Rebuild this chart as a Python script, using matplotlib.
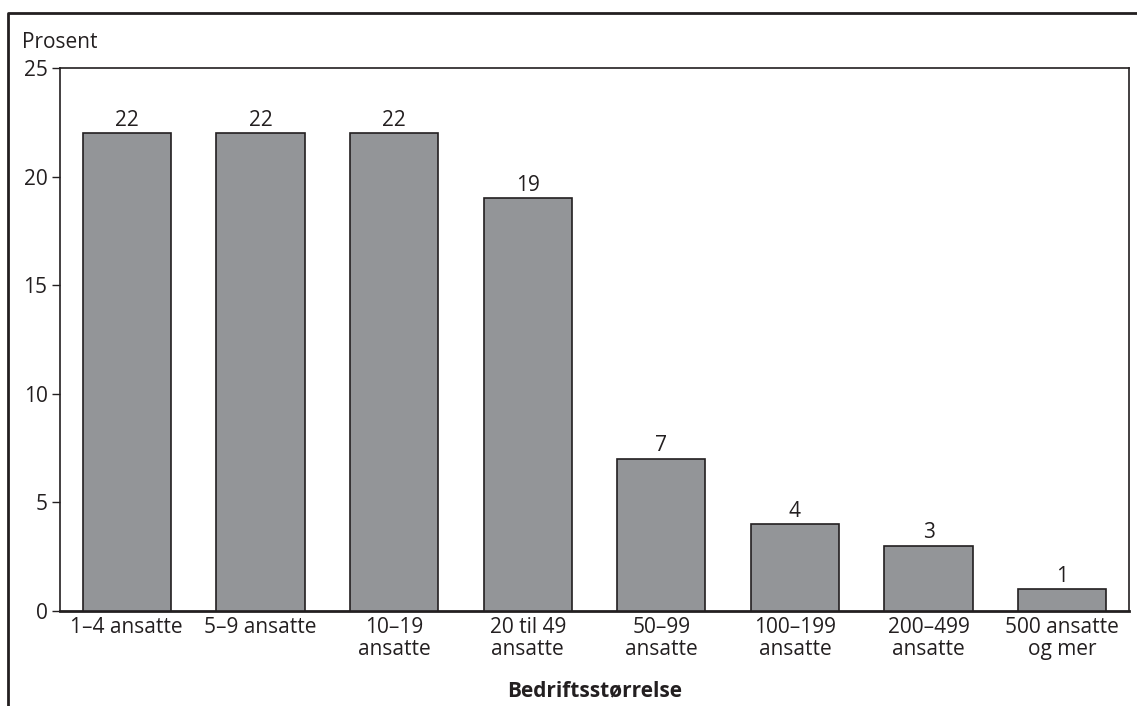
import matplotlib
matplotlib.use("Agg")
import matplotlib.pyplot as plt
from matplotlib.lines import Line2D

categories = ["1–4 ansatte", "5–9 ansatte", "10–19\nansatte", "20 til 49\nansatte",
              "50–99\nansatte", "100–199\nansatte", "200–499\nansatte", "500 ansatte\nog mer"]
values = [22, 22, 22, 19, 7, 4, 3, 1]
yticks = [0, 5, 10, 15, 20, 25]

plt.rcParams['font.family'] = ['Open Sans', 'DejaVu Sans']

W, H = 1137, 706
FS = 15
fig = plt.figure(figsize=(W / 100, H / 100), dpi=100)
ax = fig.add_axes([60 / W, 1 - 611 / H, (1129 - 60) / W, (611 - 68) / H])

x = list(range(len(categories)))
ax.bar(x, values, width=0.66, color="#939598", edgecolor="#231f20", linewidth=1.2, zorder=3)
for xi, v in zip(x, values):
    ax.text(xi, v + 0.12, str(v), ha="center", va="bottom", fontsize=FS, color="#231f20")

ax.set_xlim(-0.5, len(categories) - 0.5)
ax.set_ylim(0, 25)
ax.set_yticks(yticks)
ax.set_xticks(x)
ax.set_xticklabels(categories, fontsize=FS, color="#231f20", linespacing=1.07)
ax.tick_params(axis="x", length=0, pad=4)
ax.tick_params(axis="y", length=6, width=1, labelsize=FS, labelcolor="#231f20", color="#231f20", pad=3)
for s in ["left", "right", "top"]:
    ax.spines[s].set_linewidth(1.2)
    ax.spines[s].set_color("#231f20")
ax.spines["bottom"].set_linewidth(2)
ax.spines["bottom"].set_color("#231f20")

fig.text(22 / W, 1 - 43 / H, "Prosent", fontsize=FS, ha="left", va="center", color="#231f20")
fig.text(594.5 / W, 1 - 691 / H, "Bedriftsstørrelse", fontsize=FS, fontweight="bold",
         ha="center", va="center", color="#231f20")

fig.add_artist(Line2D([8 / W, 8 / W, 1.0], [0.0, 1 - 13 / H, 1 - 13 / H],
                      transform=fig.transFigure, color="#231f20", linewidth=2))

fig.savefig("out.png", dpi=100)
